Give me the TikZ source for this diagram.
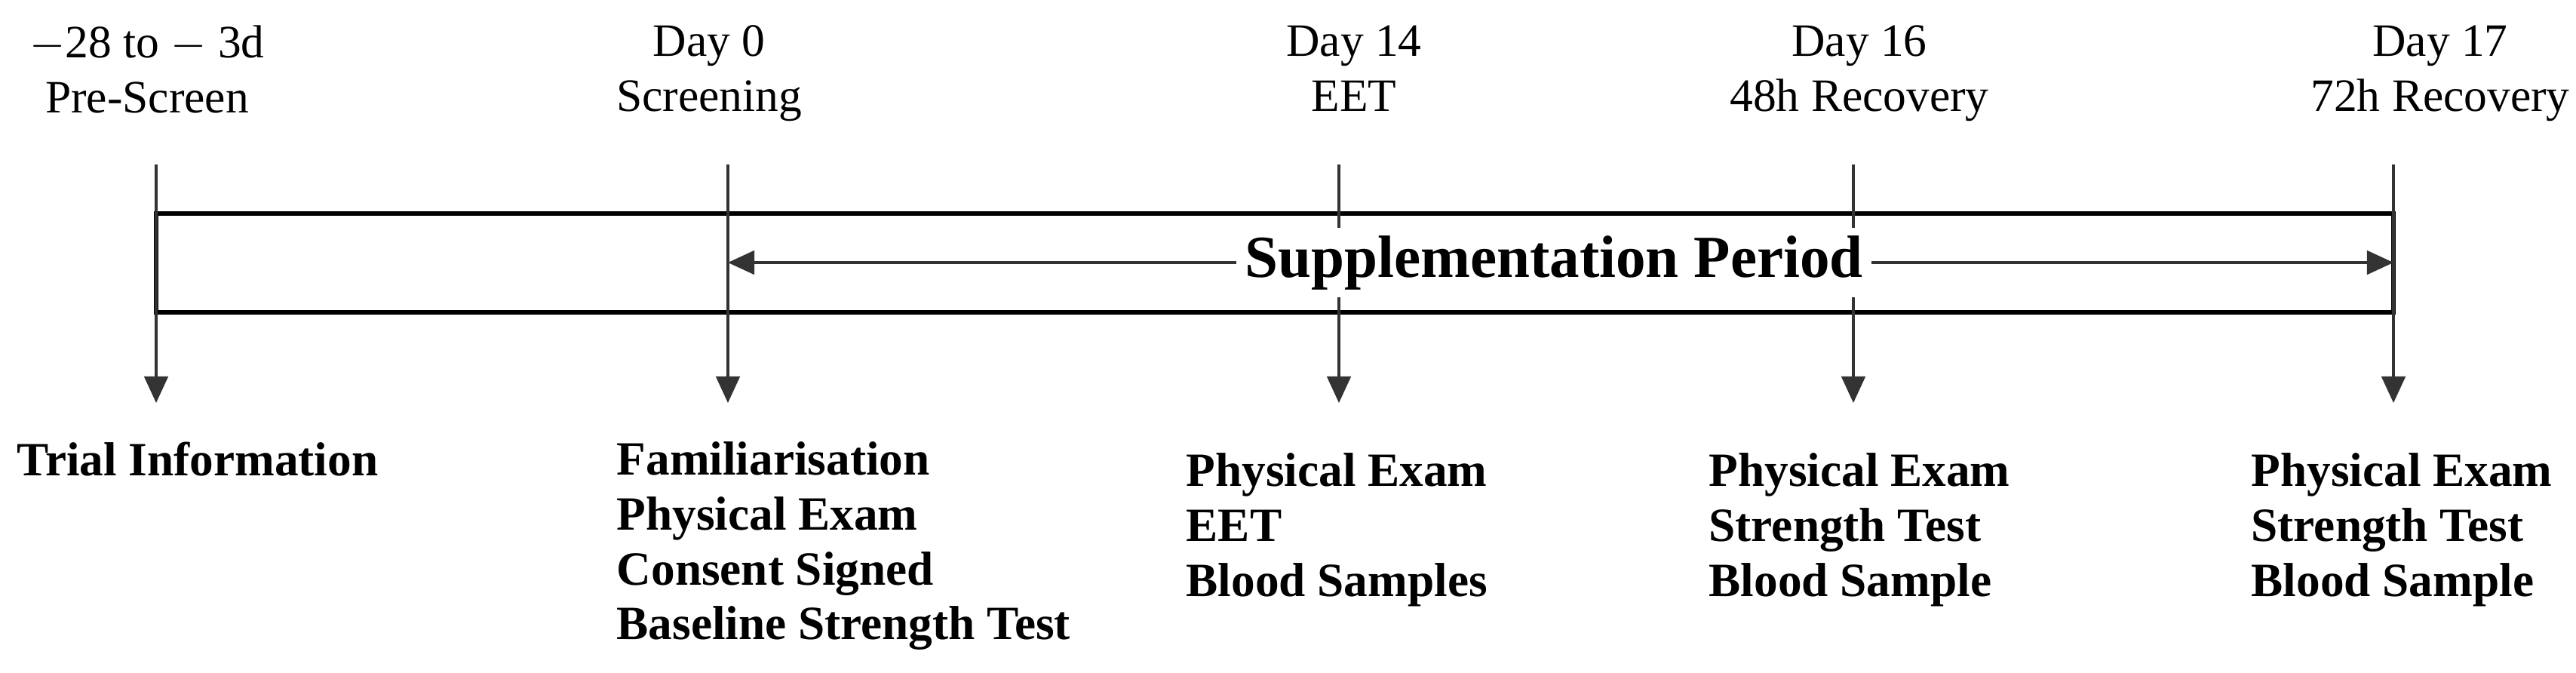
\documentclass[tikz,border=0pt]{standalone}
\usepackage{fontspec}
\setmainfont{Liberation Serif}
\usetikzlibrary{arrows.meta}
\begin{document}
\begin{tikzpicture}[
  lbl/.style={font=\fontsize{18}{20.7}\selectfont\bfseries, inner sep=0pt},
  blist/.style={lbl, align=left, anchor=north west},
  tlab/.style={font=\fontsize{17.5}{20.7}\selectfont, inner sep=0pt, align=center, anchor=north},
  conn/.style={line width=0.9pt, draw=black!80, -{Triangle[length=10pt,width=9pt]}},
]
\useasboundingbox (0,0) rectangle (34.15,-8.91);
\draw[line width=1.6pt] (2.07,-2.83) rectangle (31.73,-4.14);
\foreach \n/\x in {a/2.07,b/9.65,c/17.75,d/24.57,e/31.73}{
  \coordinate (\n top) at (\x,-2.18);
  \coordinate (\n bot) at (\x,-5.34);
  \draw[conn] (\n top) -- (\n bot);
}
\node[tlab] (ta) at (1.95,-0.33) {$-$28 to $-$ 3d\\Pre-Screen};
\node[tlab] (tb) at (9.40,-0.33) {Day 0\\Screening};
\node[tlab] (tc) at (17.95,-0.33) {Day 14\\EET};
\node[tlab] (td) at (24.65,-0.33) {Day 16\\48h Recovery};
\node[tlab] (te) at (32.35,-0.33) {Day 17\\72h Recovery};
\node[font=\fontsize{22.5}{26}\selectfont\bfseries, fill=white, inner sep=3pt] (sp) at (20.6,-3.48) {Supplementation Period};
\coordinate (s0) at (9.65,-3.48);
\coordinate (s1) at (31.73,-3.48);
\draw[conn] (sp.west) -- (s0);
\draw[conn] (sp.east) -- (s1);
\node[blist] (ba) at (0.22,-5.85) {Trial Information};
\node[blist] (bb) at (8.17,-5.85) {Familiarisation\\Physical Exam\\Consent Signed\\Baseline Strength Test};
\node[blist] (bc) at (15.72,-6.0) {Physical Exam\\EET\\Blood Samples};
\node[blist] (bd) at (22.65,-6.0) {Physical Exam\\Strength Test\\Blood Sample};
\node[blist] (be) at (29.84,-6.0) {Physical Exam\\Strength Test\\Blood Sample};
\end{tikzpicture}
\end{document}
